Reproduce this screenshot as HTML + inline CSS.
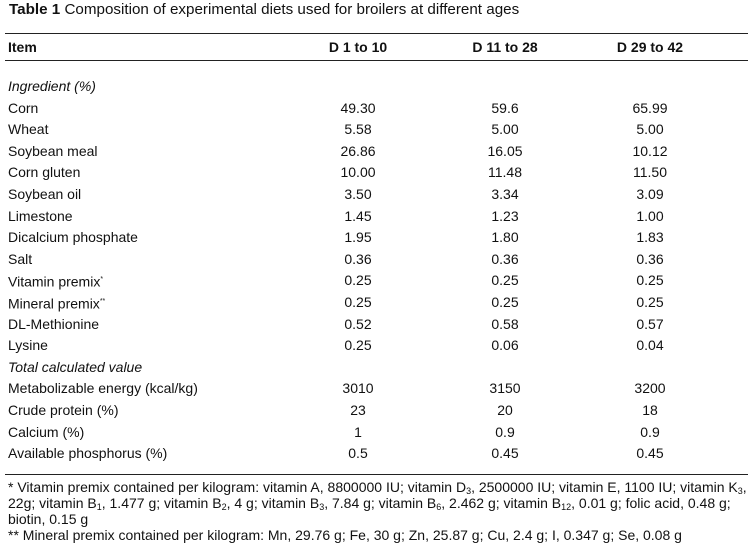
<!DOCTYPE html>
<html><head><meta charset="utf-8"><style>
body{margin:0;width:753px;height:551px;background:#fff;font-family:"Liberation Sans",Arial,sans-serif;color:#111;position:relative;overflow:hidden}
.t{position:absolute;white-space:nowrap;font-size:14px;line-height:16px}
.c{transform:translateX(-50%)}
.rule{position:absolute;left:5px;width:743px;height:1px;background:#222}
.fn{position:absolute;left:8px;font-size:14px;line-height:16px;white-space:nowrap}
sub{font-size:9px;vertical-align:-2px;line-height:0}
</style></head><body>
<div class="t" style="left:9px;top:2px;font-size:15.2px"><b>Table 1</b> Composition of experimental diets used for broilers at different ages</div>
<div class="rule" style="top:33px"></div>
<div class="t" style="left:8px;top:39px"><b>Item</b></div>
<div class="t c" style="left:358px;top:39px"><b>D 1 to 10</b></div>
<div class="t c" style="left:505px;top:39px"><b>D 11 to 28</b></div>
<div class="t c" style="left:650px;top:39px"><b>D 29 to 42</b></div>
<div class="rule" style="top:60px"></div>
<div id="rows"></div>
<div class="rule" style="top:474px"></div>
<div class="fn" style="top:479px">* Vitamin premix contained per kilogram: vitamin A, 8800000 IU; vitamin D<sub>3</sub>, 2500000 IU; vitamin E, 1100 IU; vitamin K<sub>3</sub>,<br>22g; vitamin B<sub>1</sub>, 1.477 g; vitamin B<sub>2</sub>, 4 g; vitamin B<sub>3</sub>, 7.84 g; vitamin B<sub>6</sub>, 2.462 g; vitamin B<sub>12</sub>, 0.01 g; folic acid, 0.48 g;<br>biotin, 0.15 g<br>** Mineral premix contained per kilogram: Mn, 29.76 g; Fe, 30 g; Zn, 25.87 g; Cu, 2.4 g; I, 0.347 g; Se, 0.08 g</div>
<script>
const labels=["<i>Ingredient (%)</i>","Corn","Wheat","Soybean meal","Corn gluten","Soybean oil","Limestone","Dicalcium phosphate","Salt","Vitamin premix<sup style='font-size:7px'>*</sup>","Mineral premix<sup style='font-size:7px'>**</sup>","DL-Methionine","Lysine","<i>Total calculated value</i>","Metabolizable energy (kcal/kg)","Crude protein (%)","Calcium (%)","Available phosphorus (%)"];
const d1=["","49.30","5.58","26.86","10.00","3.50","1.45","1.95","0.36","0.25","0.25","0.52","0.25","","3010","23","1","0.5"];
const d2=["","59.6","5.00","16.05","11.48","3.34","1.23","1.80","0.36","0.25","0.25","0.58","0.06","","3150","20","0.9","0.45"];
const d3=["","65.99","5.00","10.12","11.50","3.09","1.00","1.83","0.36","0.25","0.25","0.57","0.04","","3200","18","0.9","0.45"];
const rows=document.getElementById('rows');
labels.forEach((l,i)=>{
  const top=78+i*21.6;
  const a=document.createElement('div');a.className='t';a.style.left='8px';a.style.top=top+'px';a.innerHTML=l;
  
  
  rows.appendChild(a);
  [[d1,358],[d2,505],[d3,650]].forEach(([arr,x])=>{
    if(!arr[i])return;
    const v=document.createElement('div');v.className='t c';v.style.left=x+'px';v.style.top=top+'px';v.textContent=arr[i];
    
    
    rows.appendChild(v);
  });
});
</script>
</body></html>
